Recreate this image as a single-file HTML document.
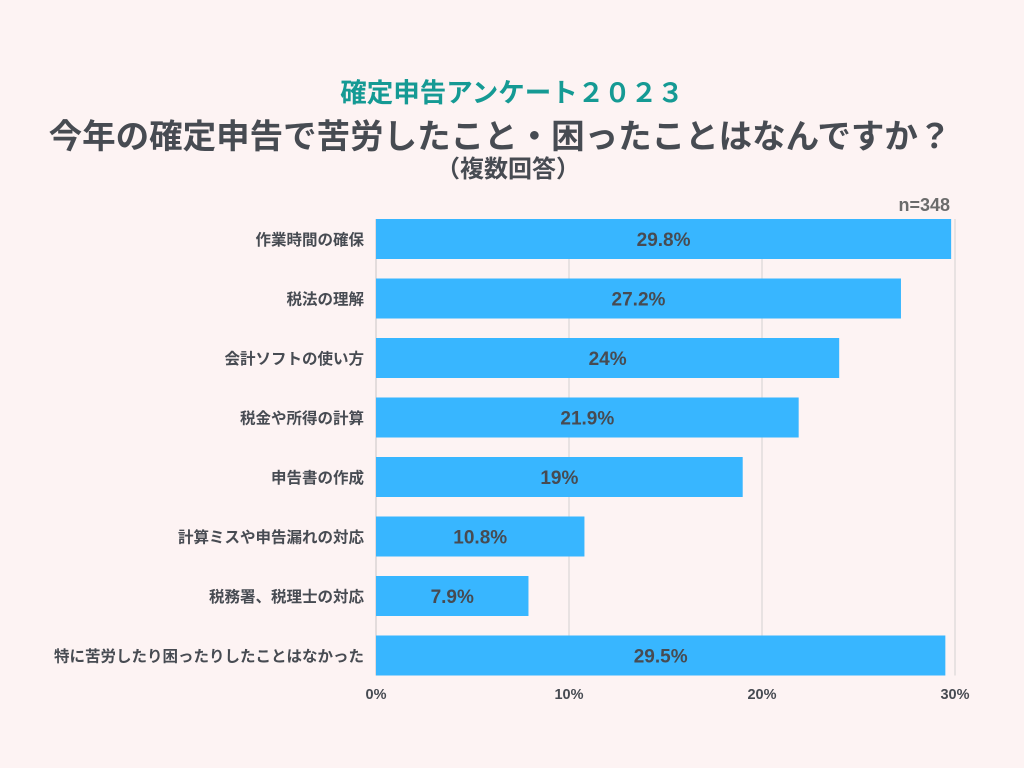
<!DOCTYPE html>
<html><head><meta charset="utf-8"><style>
body{margin:0;width:1024px;height:768px;background:#fdf3f3;font-family:"Liberation Sans","Noto Sans CJK JP",sans-serif;overflow:hidden}
</style></head><body>
<svg width="1024" height="768" style="position:absolute;left:0;top:0">
<text x="512" y="102" text-anchor="middle" font-size="26.5" font-weight="bold" fill="#159a94">確定申告アンケート２０２３</text>
<text x="500" y="148" text-anchor="middle" font-size="33.5" font-weight="bold" fill="#474b52">今年の確定申告で苦労したこと・困ったことはなんですか？</text>
<text x="508" y="177" text-anchor="middle" font-size="24" font-weight="bold" fill="#474b52">（複数回答）</text>
<text x="950" y="211" text-anchor="end" font-size="18" font-weight="bold" fill="#6b6b6b">n=348</text>
<g id="g"></g>
</svg>
<script>
const categories=["作業時間の確保","税法の理解","会計ソフトの使い方","税金や所得の計算","申告書の作成","計算ミスや申告漏れの対応","税務署、税理士の対応","特に苦労したり困ったりしたことはなかった"];
const values=[29.8,27.2,24,21.9,19,10.8,7.9,29.5];
const valueLabels=["29.8%","27.2%","24%","21.9%","19%","10.8%","7.9%","29.5%"];
const ticks=[0,10,20,30];
const tickLabels=["0%","10%","20%","30%"];
const ns="http://www.w3.org/2000/svg",g=document.getElementById('g');
const x=v=>376+v*19.3, y0=219, step=59.5, bh=40;
function mk(t,a,txt){const e=document.createElementNS(ns,t);for(const k in a)e.setAttribute(k,a[k]);if(txt!=null)e.textContent=txt;g.appendChild(e);return e;}
ticks.forEach((t,i)=>{
 const l=mk('line',{x1:x(t),x2:x(t),y1:y0,y2:y0+step*7+bh,stroke:i?'#d4d0d0':'#c9c5c5','stroke-width':1});
 
 
 const tl=mk('text',{x:x(t),y:699,'text-anchor':'middle','font-size':14.5,'font-weight':'bold',fill:'#474b52'},tickLabels[i]);
 
 
});
categories.forEach((c,i)=>{
 const yy=y0+i*step;
 const r=mk('rect',{x:376,y:yy,width:x(values[i])-376,height:bh,fill:'#38b6ff'});
 
 
 const vl=mk('text',{x:(376+x(values[i]))/2,y:yy+bh/2+7,'text-anchor':'middle','font-size':19,'font-weight':'bold',fill:'#474b52'},valueLabels[i]);
 
 
 const cl=mk('text',{x:364,y:yy+bh/2+6,'text-anchor':'end','font-size':15.5,'font-weight':'bold',fill:'#474b52'},c);
 
 
});
</script>
</body></html>
